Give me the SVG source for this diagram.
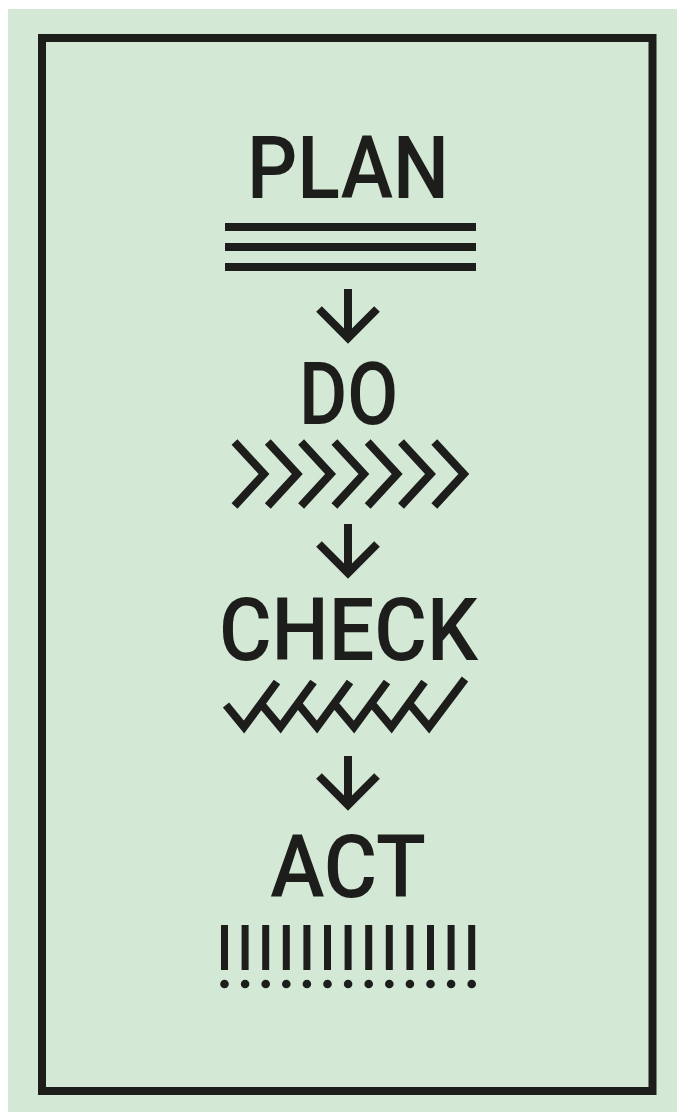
<svg xmlns="http://www.w3.org/2000/svg" width="677" height="1112" viewBox="0 0 677 1112">
  <style>
    .ink { stroke: #1d1d1b; stroke-width: 8; fill: none; }
    .lbl { font-family: Roboto, "Liberation Sans", sans-serif; font-weight: 500; font-size: 87px; fill: #1d1d1b; text-anchor: middle; }
  </style>
  <defs>
    <path id="arrow" d="M348,0 V49 M319,20 L348,49 L377,20" class="ink" stroke-linejoin="miter"/>
    <path id="chev" d="M234.5,442 L264,474 L234.5,506" class="ink" stroke-linejoin="miter"/>
  </defs>
  <rect x="0" y="0" width="677" height="1112" fill="#ffffff"/>
  <rect x="8" y="9" width="669" height="1103" fill="#d3e9d5"/>
  <rect id="frame" x="42" y="38" width="610.5" height="1053" class="ink"/>

  <g id="plan">
    <text class="lbl" transform="translate(348,198) scale(0.907,1)">PLAN</text>
    <path class="ink" d="M225,227 H476 M225,247 H476 M225,267 H476"/>
  </g>

  <g id="do">
    <text class="lbl" transform="translate(348.7,424) scale(0.85,1)">DO</text>
    <use href="#chev" x="0"/>
    <use href="#chev" x="33.3"/>
    <use href="#chev" x="66.6"/>
    <use href="#chev" x="99.9"/>
    <use href="#chev" x="133.2"/>
    <use href="#chev" x="166.5"/>
    <use href="#chev" x="199.8"/>
  </g>

  <g id="check">
    <text class="lbl" transform="translate(348.4,660) scale(0.927,1)">CHECK</text>
    <path class="ink" stroke-linejoin="miter" d="M226,705 L244,727 L277,682 M262,705 L280.5,727 L313.5,682 M299,705 L317,727 L350,682 M335.5,705 L354,727 L387,682 M373,705 L391.5,727 L424.5,682 M410.5,705 L429,727 L465,679"/>
  </g>

  <g id="act">
    <text class="lbl" transform="translate(348,897) scale(0.94,1)">ACT</text>
    <g fill="#1d1d1b">
      <rect x="221" y="925" width="7" height="45"/>
      <rect x="241.6" y="925" width="7" height="45"/>
      <rect x="262.2" y="925" width="7" height="45"/>
      <rect x="282.8" y="925" width="7" height="45"/>
      <rect x="303.4" y="925" width="7" height="45"/>
      <rect x="324" y="925" width="7" height="45"/>
      <rect x="344.6" y="925" width="7" height="45"/>
      <rect x="365.2" y="925" width="7" height="45"/>
      <rect x="385.8" y="925" width="7" height="45"/>
      <rect x="406.4" y="925" width="7" height="45"/>
      <rect x="427" y="925" width="7" height="45"/>
      <rect x="447.6" y="925" width="7" height="45"/>
      <rect x="468.2" y="925" width="7" height="45"/>
      <circle cx="224.5" cy="984" r="4.3"/>
      <circle cx="245.1" cy="984" r="4.3"/>
      <circle cx="265.7" cy="984" r="4.3"/>
      <circle cx="286.3" cy="984" r="4.3"/>
      <circle cx="306.9" cy="984" r="4.3"/>
      <circle cx="327.5" cy="984" r="4.3"/>
      <circle cx="348.1" cy="984" r="4.3"/>
      <circle cx="368.7" cy="984" r="4.3"/>
      <circle cx="389.3" cy="984" r="4.3"/>
      <circle cx="409.9" cy="984" r="4.3"/>
      <circle cx="430.5" cy="984" r="4.3"/>
      <circle cx="451.1" cy="984" r="4.3"/>
      <circle cx="471.7" cy="984" r="4.3"/>
    </g>
  </g>

  <g id="connectors">
    <use href="#arrow" y="289"/>
    <use href="#arrow" y="524"/>
    <use href="#arrow" y="756"/>
  </g>
</svg>
